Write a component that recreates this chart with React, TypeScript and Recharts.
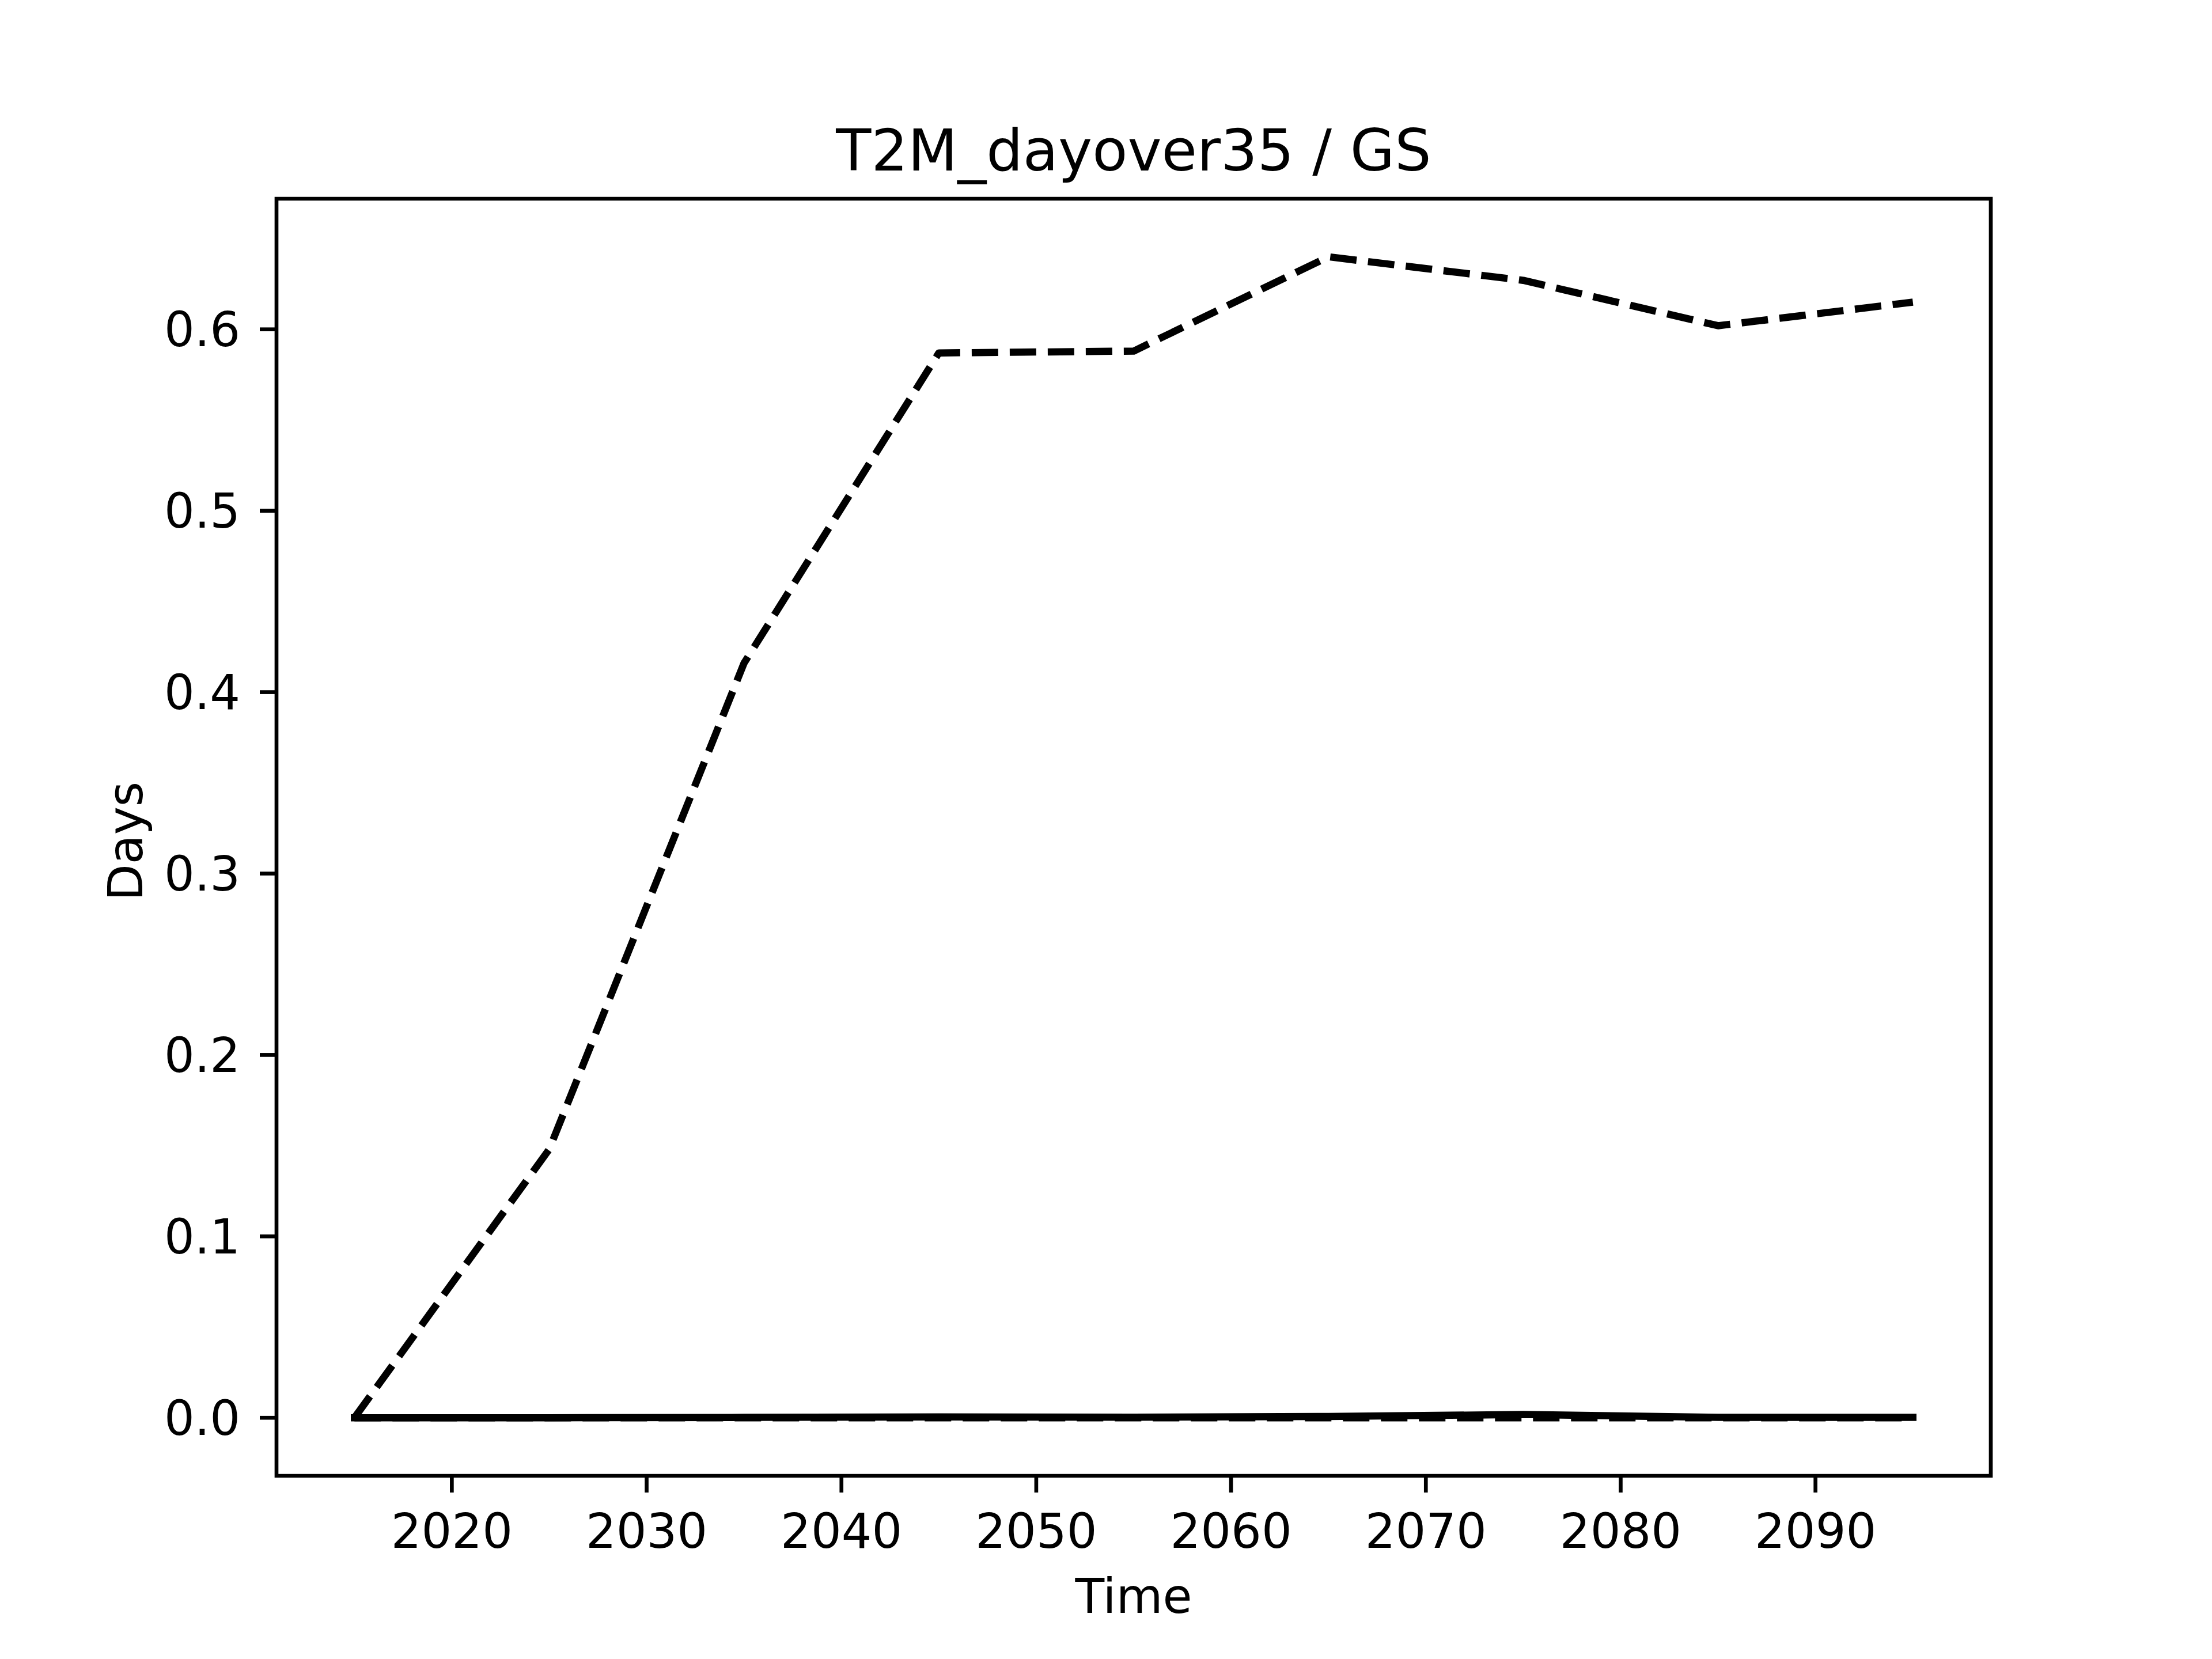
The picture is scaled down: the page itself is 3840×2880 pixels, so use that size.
import { LineChart, Line, XAxis, YAxis, ReferenceArea, Label } from 'recharts';

const years = [2015, 2025, 2035, 2045, 2055, 2065, 2075, 2085, 2095];
const dashedHigh = [0, 0.148, 0.416, 0.587, 0.588, 0.640, 0.627, 0.602, 0.615];
const dashedLow = [0, 0, 0, 0, 0, 0, 0, 0, 0];
const solid = [0, 0, 0.0002, 0.0005, 0.0003, 0.0007, 0.0018, 0.0002, 0.0002];

const xTicks = [2020, 2030, 2040, 2050, 2060, 2070, 2080, 2090];
const yTicks = [0, 0.1, 0.2, 0.3, 0.4, 0.5, 0.6];

const data = years.map((year, i) => ({
  year,
  high: dashedHigh[i],
  low: dashedLow[i],
  solid: solid[i],
}));

const FONT = 'DejaVu Sans';
const LW = 12.5; // 1.5pt at 600 dpi
const SPINE = 6.67;
const DASH = '46 20';

// title sits above the frame
const TitleText = ({ viewBox }: any) => (
  <text x={viewBox.x + viewBox.width / 2} y={viewBox.y - 49} textAnchor="middle"
    fontFamily={FONT} fontSize={100} fill="#000">T2M_dayover35 / GS</text>
);

const XLabel = ({ viewBox }: any) => (
  <text x={viewBox.x + viewBox.width / 2} y={viewBox.y + 238} textAnchor="middle"
    fontFamily={FONT} fontSize={83} fill="#000">Time</text>
);

const YLabel = ({ viewBox }: any) => {
  const cx = 247;
  const cy = viewBox.y + viewBox.height / 2 + 7;
  return (
    <text x={cx} y={cy} textAnchor="middle" transform={`rotate(-90, ${cx}, ${cy})`}
      fontFamily={FONT} fontSize={83} fill="#000">Days</text>
  );
};

export default function App() {
  return (
    <div style={{ position: 'absolute', top: 0, left: 0, background: '#fff', fontFamily: FONT }}>
      <LineChart width={3840} height={2880} data={data}
        margin={{ top: 345, right: 384, bottom: 68, left: 0 }}>
        <XAxis dataKey="year" type="number" domain={[2011, 2099]} ticks={xTicks}
          allowDataOverflow axisLine={false} tickSize={29} tickMargin={37} height={250}
          tickLine={{ stroke: '#000', strokeWidth: SPINE }}
          tick={{ fontSize: 83, fill: '#000', fontFamily: FONT }}>
          <Label content={<XLabel />} />
        </XAxis>
        <YAxis type="number" domain={[-0.032, 0.672]} ticks={yTicks} allowDataOverflow
          axisLine={false} tickSize={29} tickMargin={34} width={480}
          tickFormatter={(v) => Number(v).toFixed(1)}
          tickLine={{ stroke: '#000', strokeWidth: SPINE }}
          tick={{ fontSize: 83, fill: '#000', fontFamily: FONT }}>
          <Label content={<YLabel />} />
        </YAxis>
        <Line type="linear" dataKey="low" stroke="#000" strokeWidth={LW} strokeDasharray={DASH}
          strokeLinecap="butt" strokeLinejoin="round" dot={false} activeDot={false} isAnimationActive={false} />
        <Line type="linear" dataKey="high" stroke="#000" strokeWidth={LW} strokeDasharray={DASH}
          strokeLinecap="butt" strokeLinejoin="round" dot={false} activeDot={false} isAnimationActive={false} />
        <Line type="linear" dataKey="solid" stroke="#000" strokeWidth={LW}
          strokeLinecap="square" strokeLinejoin="round" dot={false} activeDot={false} isAnimationActive={false} />
        <ReferenceArea x1={2011} x2={2099} y1={-0.032} y2={0.672} ifOverflow="visible"
          fill="none" fillOpacity={0} stroke="#000" strokeWidth={SPINE}>
          <Label content={<TitleText />} />
        </ReferenceArea>
      </LineChart>
    </div>
  );
}
